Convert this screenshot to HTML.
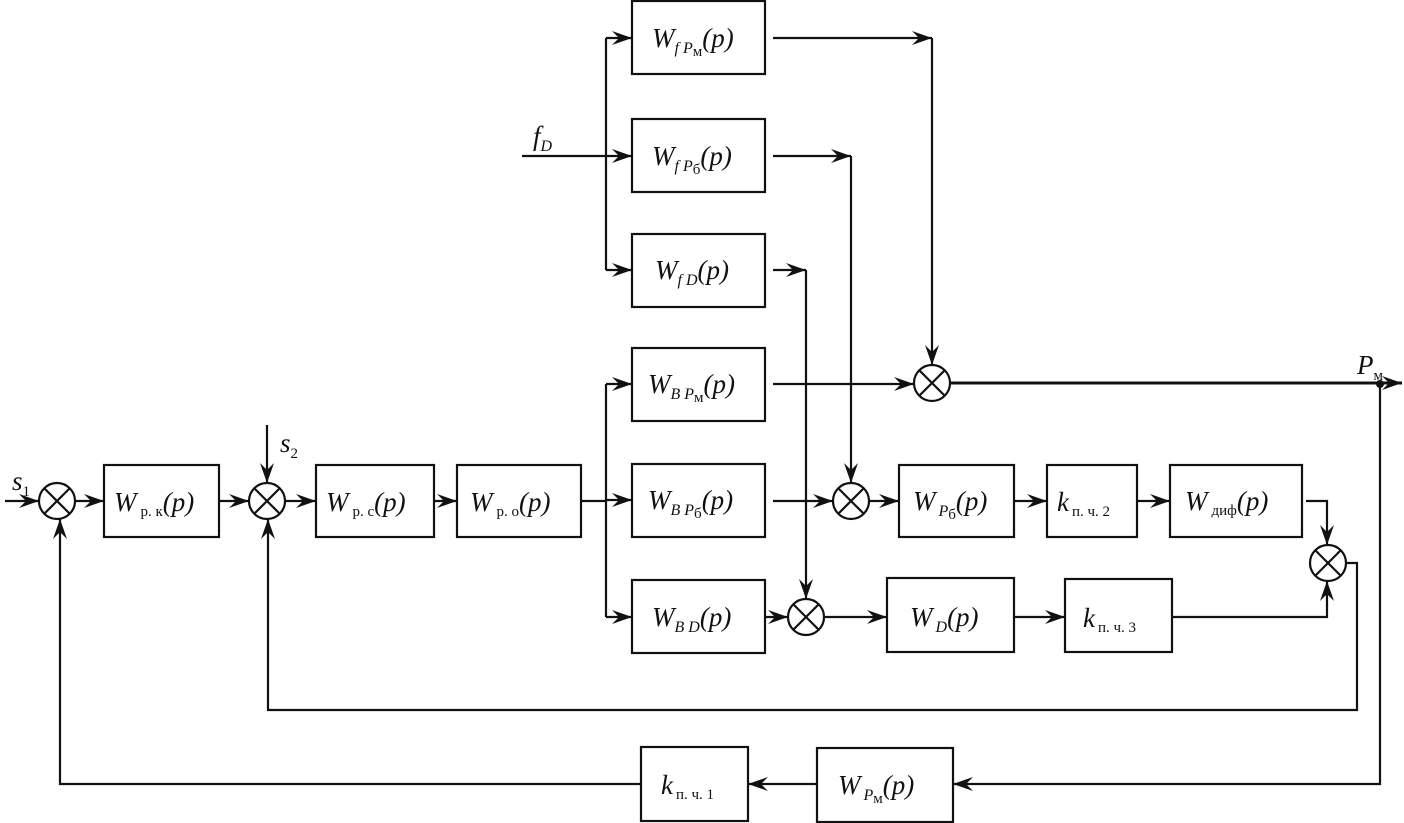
<!DOCTYPE html>
<html><head><meta charset="utf-8"><style>
html,body{margin:0;padding:0;background:#fff}
svg{display:block}
text{font-family:"Liberation Serif",serif;fill:#111}
.w{font-style:italic;font-size:27px}
.s{font-size:15px;font-style:normal}
.si{font-size:16px;font-style:italic}
</style></head><body>
<svg width="1404" height="823" viewBox="0 0 1404 823" xmlns="http://www.w3.org/2000/svg">
<defs>
<marker id="a" markerWidth="22" markerHeight="14" refX="20" refY="7" orient="auto" markerUnits="userSpaceOnUse">
<path d="M0,0 L20,7 L0,14 L7,7 Z" fill="#111"/>
</marker>
</defs>
<g stroke="#111" stroke-width="2.2" fill="none">
<!-- boxes -->
<rect x="104" y="465" width="115" height="72"/>
<rect x="316" y="465" width="118" height="72"/>
<rect x="457" y="465" width="124" height="72"/>
<rect x="632" y="1" width="133" height="73"/>
<rect x="632" y="119" width="133" height="73"/>
<rect x="632" y="234" width="133" height="73"/>
<rect x="632" y="348" width="133" height="73"/>
<rect x="632" y="464" width="133" height="73"/>
<rect x="632" y="580" width="133" height="73"/>
<rect x="899" y="465" width="115" height="72"/>
<rect x="1047" y="465" width="90" height="72"/>
<rect x="1170" y="465" width="132" height="72"/>
<rect x="887" y="578" width="127" height="74"/>
<rect x="1065" y="579" width="107" height="73"/>
<rect x="817" y="748" width="136" height="74"/>
<rect x="641" y="747" width="107" height="74"/>
<!-- sums -->
<g id="sum">
</g>
<circle cx="57" cy="501" r="18"/><path d="M44,488 L70,514 M70,488 L44,514"/>
<circle cx="267" cy="501" r="18"/><path d="M254,488 L280,514 M280,488 L254,514"/>
<circle cx="932" cy="383" r="18"/><path d="M919,370 L945,396 M945,370 L919,396"/>
<circle cx="851" cy="501" r="18"/><path d="M838,488 L864,514 M864,488 L838,514"/>
<circle cx="806" cy="617" r="18"/><path d="M793,604 L819,630 M819,604 L793,630"/>
<circle cx="1328" cy="563" r="18"/><path d="M1315,550 L1341,576 M1341,550 L1315,576"/>
<!-- main path -->
<line x1="5" y1="501" x2="39" y2="501" marker-end="url(#a)"/>
<line x1="75" y1="501" x2="104" y2="501" marker-end="url(#a)"/>
<line x1="219" y1="501" x2="249" y2="501" marker-end="url(#a)"/>
<line x1="267" y1="425" x2="267" y2="483" marker-end="url(#a)"/>
<line x1="285" y1="501" x2="316" y2="501" marker-end="url(#a)"/>
<line x1="434" y1="501" x2="457" y2="501" marker-end="url(#a)"/>
<line x1="581" y1="501" x2="606" y2="501"/>
<line x1="606" y1="384" x2="606" y2="617"/>
<line x1="606" y1="384" x2="632" y2="384" marker-end="url(#a)"/>
<line x1="606" y1="500" x2="632" y2="500" marker-end="url(#a)"/>
<line x1="606" y1="617" x2="632" y2="617" marker-end="url(#a)"/>
<!-- fD split -->
<line x1="522" y1="156" x2="606" y2="156"/>
<line x1="606" y1="38" x2="606" y2="270"/>
<line x1="606" y1="38" x2="632" y2="38" marker-end="url(#a)"/>
<line x1="606" y1="156" x2="632" y2="156" marker-end="url(#a)"/>
<line x1="606" y1="270" x2="632" y2="270" marker-end="url(#a)"/>
<!-- f outputs -->
<line x1="773" y1="38" x2="932" y2="38" marker-end="url(#a)"/>
<line x1="932" y1="38" x2="932" y2="365" marker-end="url(#a)"/>
<line x1="773" y1="156" x2="851" y2="156" marker-end="url(#a)"/>
<line x1="851" y1="156" x2="851" y2="483" marker-end="url(#a)"/>
<line x1="773" y1="270" x2="806" y2="270" marker-end="url(#a)"/>
<line x1="806" y1="270" x2="806" y2="599" marker-end="url(#a)"/>
<!-- B outputs -->
<line x1="773" y1="384" x2="914" y2="384" marker-end="url(#a)"/>
<line x1="773" y1="501" x2="833" y2="501" marker-end="url(#a)"/>
<line x1="765" y1="617" x2="788" y2="617" marker-end="url(#a)"/>
<line x1="950" y1="383" x2="1402" y2="383" stroke-width="3" marker-end="url(#a)"/>
<line x1="869" y1="501" x2="899" y2="501" marker-end="url(#a)"/>
<line x1="1014" y1="501" x2="1047" y2="501" marker-end="url(#a)"/>
<line x1="1137" y1="501" x2="1170" y2="501" marker-end="url(#a)"/>
<polyline points="1306,501 1327,501 1327,545" marker-end="url(#a)"/>
<line x1="824" y1="617" x2="887" y2="617" marker-end="url(#a)"/>
<line x1="1014" y1="617" x2="1065" y2="617" marker-end="url(#a)"/>
<polyline points="1172,617 1327,617 1327,581" marker-end="url(#a)"/>
<!-- feedback loops -->
<polyline points="1346,563 1357,563 1357,710 268,710 268,519" marker-end="url(#a)"/>
<polyline points="1380,383 1380,784 953,784" marker-end="url(#a)"/>
<line x1="817" y1="784" x2="748" y2="784" marker-end="url(#a)"/>
<polyline points="641,784 60,784 60,519" marker-end="url(#a)"/>
</g>
<circle cx="1380" cy="384" r="4" fill="#111"/>
<!-- labels -->
<text x="12" y="490" class="w" font-size="26">s<tspan class="s" font-style="normal" dy="6">1</tspan></text>
<text x="280" y="452" class="w">s<tspan class="s" dy="6">2</tspan></text>
<text x="533" y="145" class="w">f<tspan class="si" dy="6">D</tspan></text>
<text x="1357" y="374" class="w">P<tspan class="s" dy="6">м</tspan></text>

<text x="114" y="511" class="w">W<tspan class="s" dx="4" dy="5">р. к</tspan><tspan dy="-5">(p)</tspan></text>
<text x="326" y="511" class="w">W<tspan class="s" dx="4" dy="5">р. с</tspan><tspan dy="-5">(p)</tspan></text>
<text x="470" y="511" class="w">W<tspan class="s" dx="4" dy="5">р. о</tspan><tspan dy="-5">(p)</tspan></text>

<text x="652" y="47" class="w">W<tspan class="si" dy="6">f P</tspan><tspan class="s" font-size="12" dy="3">м</tspan><tspan dy="-9">(p)</tspan></text>
<text x="652" y="165" class="w">W<tspan class="si" dy="6">f P</tspan><tspan class="s" font-size="12" dy="3">б</tspan><tspan dy="-9">(p)</tspan></text>
<text x="655" y="279" class="w">W<tspan class="si" dy="6">f D</tspan><tspan dy="-6">(p)</tspan></text>
<text x="648" y="393" class="w">W<tspan class="si" dy="6">B P</tspan><tspan class="s" font-size="12" dy="3">м</tspan><tspan dy="-9">(p)</tspan></text>
<text x="648" y="509" class="w">W<tspan class="si" dy="6">B P</tspan><tspan class="s" font-size="12" dy="3">б</tspan><tspan dy="-9">(p)</tspan></text>
<text x="652" y="626" class="w">W<tspan class="si" dy="6">B D</tspan><tspan dy="-6">(p)</tspan></text>

<text x="913" y="510" class="w">W<tspan class="si" dx="3" dy="6">P</tspan><tspan class="s" font-size="12" dy="3">б</tspan><tspan dy="-9">(p)</tspan></text>
<text x="1057" y="511" class="w">k<tspan class="s" dx="3" dy="5">п. ч. 2</tspan></text>
<text x="1185" y="510" class="w">W<tspan class="s" dx="4" dy="5">диф</tspan><tspan dy="-5">(p)</tspan></text>
<text x="910" y="626" class="w">W<tspan class="si" dx="3" dy="6">D</tspan><tspan dy="-6">(p)</tspan></text>
<text x="1083" y="627" class="w">k<tspan class="s" dx="3" dy="5">п. ч. 3</tspan></text>
<text x="838" y="794" class="w">W<tspan class="si" dx="3" dy="6">P</tspan><tspan class="s" font-size="12" dy="3">м</tspan><tspan dy="-9">(p)</tspan></text>
<text x="661" y="794" class="w">k<tspan class="s" dx="3" dy="5">п. ч. 1</tspan></text>
</svg>
</body></html>
